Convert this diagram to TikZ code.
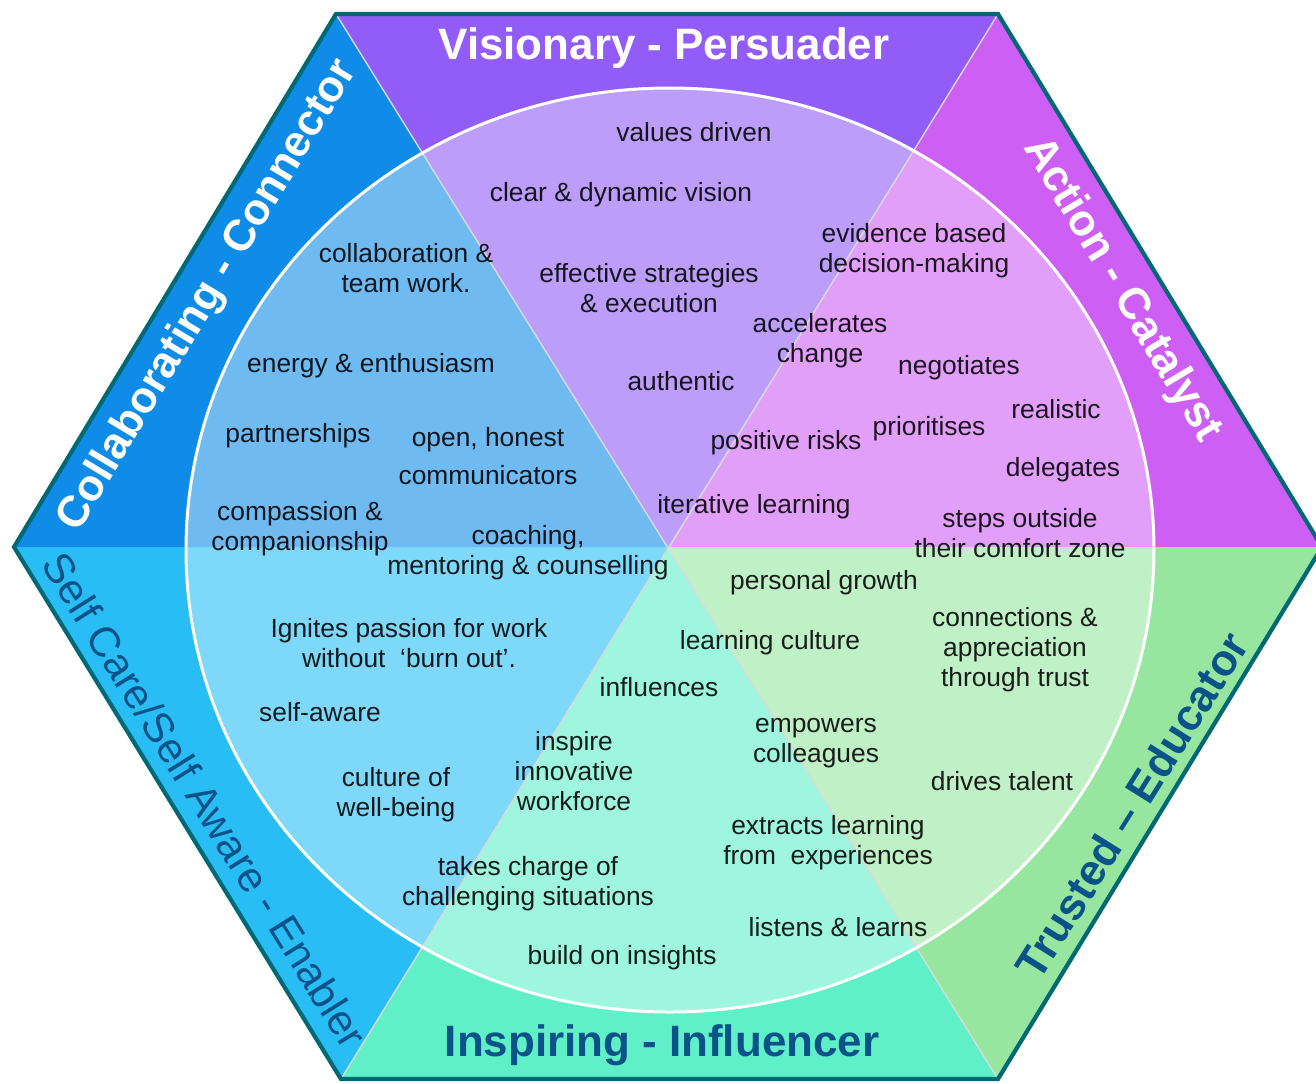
\documentclass[tikz,border=0pt]{standalone}
\usepackage{fontspec}
\setmainfont{Liberation Sans}
\definecolor{hxvision}{RGB}{145,92,248}
\definecolor{hxaction}{RGB}{205,95,245}
\definecolor{hxcollab}{RGB}{15,140,232}
\definecolor{hxself}{RGB}{40,190,245}
\definecolor{hxinspire}{RGB}{95,240,200}
\definecolor{hxtrust}{RGB}{150,230,160}
\definecolor{hxedge}{RGB}{0,105,115}
\definecolor{hxdark}{RGB}{10,82,135}

\tikzset{
  trait/.style={font=\fontsize{15}{17}\selectfont, align=center, text=black, text opacity=0.88, inner sep=0pt},
  role/.style={font=\fontsize{25}{28}\selectfont\bfseries, inner sep=0pt},
}

\begin{document}
\begin{tikzpicture}[x=0.02cm, y=-0.02cm]
\useasboundingbox (0,0) rectangle (1316,1083);
\clip (0,0) rectangle (1316,1083);
% hexagon corners
\coordinate (c) at (668,547);
\coordinate (tl) at (336,14);
\coordinate (tr) at (998,14);
\coordinate (r) at (1322,547);
\coordinate (br) at (998,1079);
\coordinate (bl) at (341,1079);
\coordinate (l) at (14,547);
% six sectors
\fill[hxvision] (c) -- (tl) -- (tr) -- cycle;
\fill[hxaction] (c) -- (tr) -- (r) -- cycle;
\fill[hxtrust] (c) -- (r) -- (br) -- cycle;
\fill[hxinspire] (c) -- (br) -- (bl) -- cycle;
\fill[hxself] (c) -- (bl) -- (l) -- cycle;
\fill[hxcollab] (c) -- (l) -- (tl) -- cycle;
% pale disc in the middle
\fill[white, fill opacity=0.4] (670,550) ellipse [x radius=484, y radius=462];
\draw[white!70!gray, line width=0.8pt] (tl) -- (br) (tr) -- (bl);
\draw[white, line width=1.7pt] (670,550) ellipse [x radius=484, y radius=462];
\draw[hxedge, line width=2.4pt] (tl) -- (tr) -- (r) -- (br) -- (bl) -- (l) -- cycle;

% role names round the rim
\node[role, text=white] (visionary) at (664,48) {Visionary - Persuader};
\node[role, text=white, rotate=59] (collab) at (208,296) {Collaborating - Connector};
\node[role, text=white, rotate=-59] (action) at (1122,290) {Action - Catalyst};
\node[role, text=hxdark, font=\fontsize{24}{27}\selectfont, rotate=-58] (selfcare) at (205,800) {Self Care/Self Aware - Enabler};
\node[role, text=hxdark, rotate=58] (trusted) at (1132,805) {Trusted – Educator};
\node[role, text=hxdark] (inspiring) at (662,1045) {Inspiring - Influencer};

% visionary
\node[trait] (values) at (694,132) {values driven};
\node[trait] (vision) at (621,195) {clear \& dynamic vision};
\node[trait] (strategy) at (649,288) {effective strategies\\\& execution};
\node[trait] (authentic) at (681,381) {authentic};
\node[trait] (change) at (820,341) {accelerates\\change};
\node[trait] (evidence) at (914,251) {evidence based\\decision-making};
\node[trait] (risks) at (786,443) {positive risks};
\node[trait] (iterative) at (754,507) {iterative learning};
% action
\node[trait] (negotiates) at (959,368) {negotiates};
\node[trait] (prioritises) at (929,429) {prioritises};
\node[trait] (realistic) at (1056,409) {realistic};
\node[trait] (delegates) at (1063,470) {delegates};
\node[trait] (comfort) at (1020,533) {steps outside\\their comfort zone};
% collaborating
\node[trait] (teamwork) at (406,268) {collaboration \&\\team work.};
\node[trait] (energy) at (371,366) {energy \& enthusiasm};
\node[trait] (partners) at (298,436) {partnerships};
\node[trait] (honest) at (488,456) {open, honest\\[5pt]communicators};
\node[trait] (compassion) at (300,529) {compassion \&\\companionship};
\node[trait] (coaching) at (528,553) {coaching,\\mentoring \& counselling};
% self care
\node[trait] (passion) at (409,643) {Ignites passion for work\\without\ \ `burn out'.};
\node[trait] (selfaware) at (320,712) {self-aware};
\node[trait] (wellbeing) at (396,795) {culture of\\well-being};
\node[trait] (charge) at (528,884) {takes charge of\\challenging situations};
% inspiring
\node[trait] (influences) at (659,687) {influences};
\node[trait] (inspire) at (574,771) {inspire\\innovative\\workforce};
\node[trait] (insights) at (622,958) {build on insights};
\node[trait] (culture) at (770,643) {learning culture};
% trusted
\node[trait] (growth) at (824,583) {personal growth};
\node[trait] (connections) at (1015,650) {connections \&\\appreciation\\through trust};
\node[trait] (empowers) at (816,743) {empowers\\colleagues};
\node[trait] (talent) at (1002,781) {drives talent};
\node[trait] (extracts) at (828,843) {extracts learning\\from\ \ experiences};
\node[trait] (listens) at (838,927) {listens \& learns};
\end{tikzpicture}
\end{document}
